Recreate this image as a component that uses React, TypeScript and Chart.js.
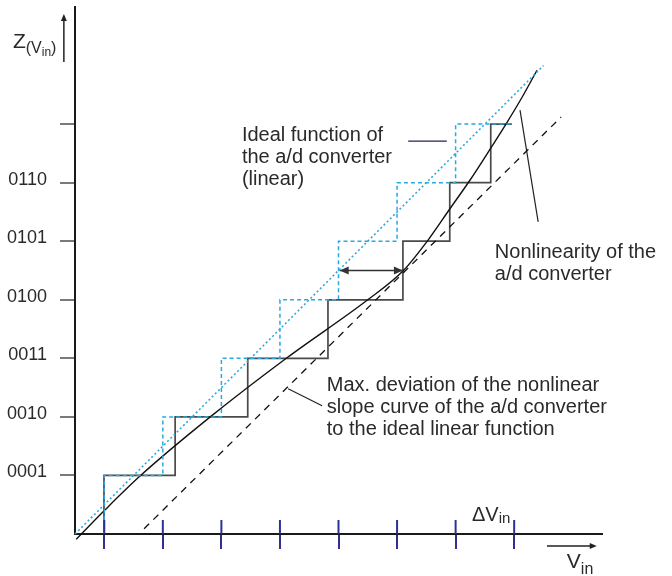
import { useEffect, useRef } from 'react';
import { Chart, registerables } from 'chart.js';

Chart.register(...registerables);

// ---- data ----
const yTickValues = [1, 2, 3, 4, 5, 6, 7];
const yTickLabels = ['0001', '0010', '0011', '0100', '0101', '0110', ''];
const xTickValues = [0.5, 1.5, 2.5, 3.5, 4.5, 5.5, 6.5, 7.5];

const stepLevels = [1, 2, 3, 4, 5, 6, 7];
const idealStepX = [0.5, 1.5, 2.5, 3.5, 4.5, 5.5, 6.5];
const idealStepEnd = 7.46;
const actualStepX = [0.495, 1.71, 2.95, 4.32, 5.6, 6.4, 7.1];
const actualStepEnd = 7.46;

const idealLineX = [0, 8];
const idealLineY = [0, 8];

const curveX = [0.02, 0.51, 1.11, 2.31, 3.62, 5.0, 5.6, 6.03, 6.4, 6.75, 7.1, 7.36, 7.63, 7.89];
const curveY = [-0.09, 0.41, 0.99, 2.0, 3.01, 4.0, 4.49, 5.02, 5.55, 6.05, 6.59, 7.0, 7.45, 7.92];

const deviationLineX = [1.18, 8.3];
const deviationLineY = [0.09, 7.12];

const arrowX = [4.52, 5.6];
const arrowY = [4.5, 4.5];

const idealLeaderX = [5.69, 6.35];
const idealLeaderY = [6.71, 6.71];
const nonlinLeaderX = [7.6, 7.91];
const nonlinLeaderY = [7.24, 5.33];
const maxDevLeaderX = [3.64, 4.22];
const maxDevLeaderY = [2.48, 2.19];

const idealText = ['Ideal function of', 'the a/d converter', '(linear)'];
const nonlinText = ['Nonlinearity of the', 'a/d converter'];
const maxDevText = ['Max. deviation of the nonlinear', 'slope curve of the a/d converter', 'to the ideal linear function'];

// ---- helpers ----
const FONT = '"Liberation Sans", Arial, Helvetica, sans-serif';
const TEXT = '#2a2a2a';
const BLUE = '#2aa9e0';
const NAVY = '#2e3192';

const pts = (xs: number[], ys: number[]) => xs.map((x, i) => ({ x, y: ys[i] }));

function staircase(xs: number[], levels: number[], end: number) {
  const out: { x: number; y: number }[] = [];
  xs.forEach((x, i) => {
    out.push({ x, y: i === 0 ? 0 : levels[i - 1] });
    out.push({ x, y: levels[i] });
  });
  out.push({ x: end, y: levels[levels.length - 1] });
  return out;
}

const annotations = [
  { lines: idealText, x: 2.85, y: 6.71 },
  { lines: nonlinText, x: 7.17, y: 4.71 },
  { lines: maxDevText, x: 4.3, y: 2.44 },
];

const decorPlugin = {
  id: 'decor',
  afterDraw(chart: any) {
    const { ctx, scales } = chart;
    const sx = scales.x;
    const sy = scales.y;
    const px = (v: number) => sx.getPixelForValue(v);
    const py = (v: number) => sy.getPixelForValue(v);
    ctx.save();

    // upper half of the x tick marks (crossing the axis)
    ctx.strokeStyle = NAVY;
    ctx.lineWidth = 2;
    const y0 = py(0);
    xTickValues.forEach((v) => {
      ctx.beginPath();
      ctx.moveTo(px(v), y0);
      ctx.lineTo(px(v), y0 - 14);
      ctx.stroke();
    });

    // arrow heads of the deviation arrow
    ctx.fillStyle = '#333';
    const ay = py(arrowY[0]);
    const head = (tipX: number, dir: number) => {
      ctx.beginPath();
      ctx.moveTo(tipX, ay);
      ctx.lineTo(tipX - dir * 9, ay - 4);
      ctx.lineTo(tipX - dir * 9, ay + 4);
      ctx.closePath();
      ctx.fill();
    };
    head(px(arrowX[0]), -1);
    head(px(arrowX[1]), 1);

    // annotation texts
    ctx.fillStyle = TEXT;
    ctx.font = `20px ${FONT}`;
    ctx.textAlign = 'left';
    ctx.textBaseline = 'alphabetic';
    annotations.forEach((a) => {
      a.lines.forEach((l, i) => ctx.fillText(l, px(a.x), py(a.y) + i * 22));
    });

    // ΔVin
    let x = px(6.78);
    let b = py(0.22);
    ctx.font = `20px ${FONT}`;
    ctx.fillText('\u0394V', x, b);
    x += ctx.measureText('\u0394V').width;
    ctx.font = `15px ${FONT}`;
    ctx.fillText('in', x, b + 2);

    // Vin with arrow
    ctx.strokeStyle = '#222';
    ctx.lineWidth = 1.5;
    const arY = py(-0.205);
    const arL = px(8.06);
    const arR = px(8.91);
    ctx.beginPath();
    ctx.moveTo(arL, arY);
    ctx.lineTo(arR - 2, arY);
    ctx.stroke();
    ctx.fillStyle = '#222';
    ctx.beginPath();
    ctx.moveTo(arR, arY);
    ctx.lineTo(arR - 7, arY - 3);
    ctx.lineTo(arR - 7, arY + 3);
    ctx.closePath();
    ctx.fill();
    ctx.fillStyle = TEXT;
    x = px(8.4);
    b = py(-0.58);
    ctx.font = `21px ${FONT}`;
    ctx.fillText('V', x, b);
    x += ctx.measureText('V').width;
    ctx.font = `16px ${FONT}`;
    ctx.fillText('in', x, b + 6);

    // Z(Vin) with small vertical arrow
    const zx = px(-0.19);
    ctx.beginPath();
    ctx.moveTo(zx, py(8.06));
    ctx.lineTo(zx, py(8.88) + 2);
    ctx.stroke();
    ctx.beginPath();
    ctx.moveTo(zx, py(8.88));
    ctx.lineTo(zx - 3, py(8.88) + 7);
    ctx.lineTo(zx + 3, py(8.88) + 7);
    ctx.closePath();
    ctx.fillStyle = '#222';
    ctx.fill();
    ctx.fillStyle = TEXT;
    x = px(-1.06);
    b = py(8.3);
    ctx.font = `21px ${FONT}`;
    ctx.fillText('Z', x, b);
    x += ctx.measureText('Z').width;
    ctx.font = `16px ${FONT}`;
    ctx.fillText('(V', x, b + 5);
    x += ctx.measureText('(V').width;
    ctx.font = `12px ${FONT}`;
    ctx.fillText('in', x, b + 8);
    x += ctx.measureText('in').width;
    ctx.font = `16px ${FONT}`;
    ctx.fillText(')', x, b + 5);

    ctx.restore();
  },
};

export default function App() {
  const ref = useRef<HTMLCanvasElement | null>(null);

  useEffect(() => {
    if (!ref.current) return;
    const line = (data: any[], color: string, width: number, dash: number[] = [], extra: any = {}) => ({
      data,
      borderColor: color,
      borderWidth: width,
      borderDash: dash,
      pointRadius: 0,
      fill: false,
      tension: 0,
      clip: false,
      ...extra,
    });

    const chart = new Chart(ref.current, {
      type: 'line',
      data: {
        datasets: [
          line(staircase(idealStepX, stepLevels, idealStepEnd), BLUE, 1.5, [4, 3]),
          line(pts(idealLineX, idealLineY), BLUE, 1.6, [2, 2.5]),
          line(pts(arrowX, arrowY), '#333', 1.5),
          line(pts(curveX, curveY), '#111', 1.4, [], { cubicInterpolationMode: 'monotone' }),
          line(pts(deviationLineX, deviationLineY), '#111', 1.3, [7, 6]),
          line(staircase(actualStepX, stepLevels, actualStepEnd), '#4a4a4a', 1.7),
          line(pts(idealLeaderX, idealLeaderY), '#222255', 1.2),
          line(pts(nonlinLeaderX, nonlinLeaderY), '#222', 1.2),
          line(pts(maxDevLeaderX, maxDevLeaderY), '#222', 1.2),
        ] as any,
      },
      options: {
        animation: false,
        responsive: false,
        events: [],
        layout: { padding: { left: 0, top: 7, right: 70, bottom: 0 } },
        plugins: { legend: { display: false }, tooltip: { enabled: false }, title: { display: false } },
        scales: {
          x: {
            type: 'linear',
            position: 'bottom',
            min: 0,
            max: 9,
            afterBuildTicks: (s: any) => {
              s.ticks = xTickValues.map((v) => ({ value: v }));
            },
            afterFit: (s: any) => {
              s.height = 42;
              s.paddingLeft = 0;
              s.paddingRight = 0;
            },
            ticks: { callback: () => '', display: true },
            grid: { display: true, drawOnChartArea: false, drawTicks: true, tickLength: 15, color: NAVY, lineWidth: 2 },
            border: { display: true, color: '#1a1a1a', width: 2 },
          },
          y: {
            type: 'linear',
            position: 'left',
            min: 0,
            max: 9,
            afterBuildTicks: (s: any) => {
              s.ticks = yTickValues.map((v) => ({ value: v }));
            },
            afterFit: (s: any) => {
              s.width = 75;
              s.paddingTop = 0;
              s.paddingBottom = 0;
            },
            ticks: {
              callback: (v: any) => {
                const i = yTickValues.indexOf(Number(v));
                return i >= 0 ? yTickLabels[i] : '';
              },
              font: { family: FONT, size: 18 },
              color: TEXT,
              padding: 13,
              labelOffset: -3,
            },
            grid: { display: true, drawOnChartArea: false, drawTicks: true, tickLength: 15, color: '#7a7a7a', lineWidth: 2 },
            border: { display: true, color: '#1a1a1a', width: 2 },
          },
        },
      } as any,
      plugins: [decorPlugin],
    });
    return () => chart.destroy();
  }, []);

  return (
    <div style={{ position: 'absolute', left: 0, top: 0, width: 672, height: 576, background: '#fff' }}>
      <canvas ref={ref} width={672} height={576} style={{ display: 'block' }} />
    </div>
  );
}
